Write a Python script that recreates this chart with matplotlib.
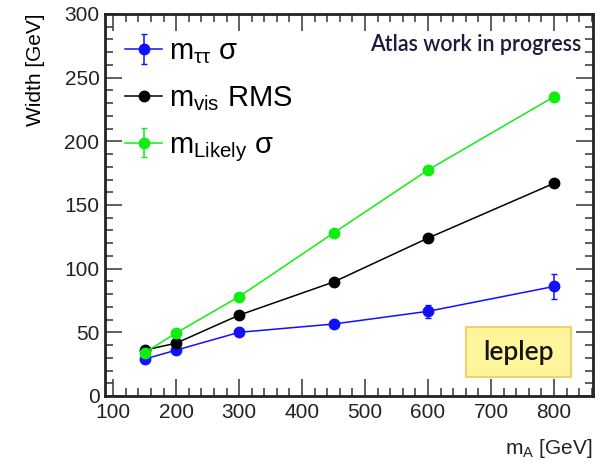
import matplotlib
matplotlib.use("Agg")
import matplotlib.pyplot as plt
from matplotlib.ticker import MultipleLocator
from matplotlib.patches import FancyBboxPatch

plt.rcParams['font.family'] = ['Liberation Sans', 'DejaVu Sans']
plt.rcParams['mathtext.fontset'] = 'custom'
plt.rcParams['mathtext.rm'] = 'Liberation Sans'
plt.rcParams['mathtext.it'] = 'Liberation Sans'
plt.rcParams['mathtext.bf'] = 'Liberation Sans:bold'

# masses of A and widths of the reconstructed mass distributions
m_A = [150, 200, 300, 450, 600, 800]
w_tautau = [29, 36, 50, 56.5, 66.5, 86]
e_tautau = [1.5, 1.5, 2, 3, 5, 10]
w_vis = [36, 41.5, 63.5, 89.5, 124, 167]
w_likely = [34, 49.5, 78, 128, 177.5, 235]
e_likely = [1, 1.5, 2, 2, 2.5, 3.5]

fig = plt.figure(figsize=(6.01, 4.65), dpi=100)
ax = fig.add_axes([0.1747, 0.1484, 0.812, 0.8216])

blue = '#1010ff'
green = '#10ee10'

ax.errorbar(m_A, w_tautau, yerr=e_tautau, color=blue, marker='o', ms=7.5,
            lw=1.1, elinewidth=1.1, capsize=2.5, label=r'$m_{\tau\tau}$ $\sigma$')
ax.errorbar(m_A, w_vis, color='black', marker='o', ms=7.5, lw=1.1,
            label=r'$m_{vis}$ RMS')
ax.errorbar(m_A, w_likely, yerr=e_likely, color=green, marker='o', ms=7.5,
            lw=1.1, elinewidth=1.1, capsize=2.5, label=r'$m_{Likely}$ $\sigma$')

ax.set_xlim(87, 862)
ax.set_ylim(0, 300)
ax.xaxis.set_major_locator(MultipleLocator(100))
ax.xaxis.set_minor_locator(MultipleLocator(20))
ax.yaxis.set_major_locator(MultipleLocator(50))
ax.yaxis.set_minor_locator(MultipleLocator(10))
ax.tick_params(which='both', direction='in', top=True, right=True,
               labelsize=15, width=1.2, color='#444444', labelcolor='#222222')
ax.tick_params(which='major', length=12)
ax.tick_params(which='minor', length=6)
ax.tick_params(axis='x', pad=5)
ax.tick_params(axis='y', pad=4)
for s in ax.spines.values():
    s.set_linewidth(2)
    s.set_color('#222222')

fig.text(592 / 601, 1 - 448 / 465, r'$m_A$ [GeV]', fontsize=15,
         ha='right', va='center', color='#222222')
ax.set_ylabel('Width [GeV]', fontsize=15, loc='top', labelpad=14)

leg = ax.legend(loc='upper left', fontsize=21, frameon=False, handlelength=1.25,
                handletextpad=0.25, labelspacing=0.62,
                bbox_to_anchor=(-0.012, 1.008), borderaxespad=0.5)

ax.text(0.975, 0.92, 'Atlas work in progress', transform=ax.transAxes,
        ha='right', va='center', fontsize=15.5, family='Lato',
        fontweight='semibold', color='#1c1c3c')

box = FancyBboxPatch((0.74, 0.05), 0.215, 0.13, transform=ax.transAxes,
                     boxstyle='square,pad=0', facecolor='#fff59a',
                     edgecolor='#f0d070', lw=1.5)
ax.add_patch(box)
ax.text(0.8475, 0.113, 'leplep', transform=ax.transAxes, ha='center',
        va='center', fontsize=19, family='Lato', fontweight='semibold',
        color='#151515')

fig.savefig('out.png', dpi=100)
